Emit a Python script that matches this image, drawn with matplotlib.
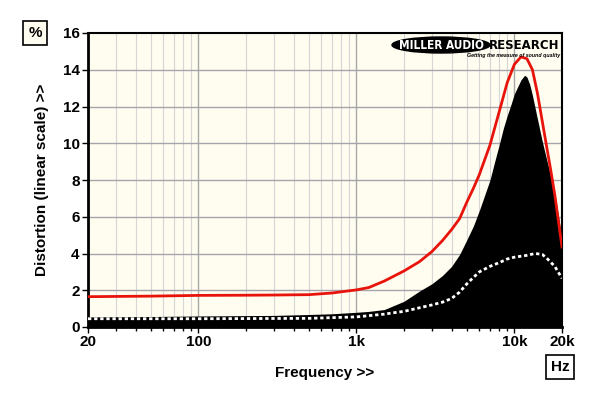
import matplotlib.pyplot as plt
from matplotlib.patches import Ellipse
from matplotlib.ticker import FixedLocator, NullFormatter

# --- data ---
red_freq = [20, 50, 100, 200, 300, 500, 700, 1000, 1200, 1500, 2000, 2500, 3000,
            3500, 4000, 4500, 5000, 5500, 6000, 7000, 8000, 9000, 10000, 11000,
            12000, 13000, 14000, 15000, 16000, 17000, 18000, 20000]
red_thd = [1.65, 1.68, 1.72, 1.73, 1.74, 1.76, 1.85, 2.02, 2.15, 2.5, 3.05, 3.55, 4.1,
           4.7, 5.3, 5.9, 6.8, 7.55, 8.3, 9.9, 11.7, 13.3, 14.3, 14.7,
           14.6, 14.0, 12.7, 11.2, 9.8, 8.5, 7.2, 4.35]

black_freq = [20, 50, 100, 200, 300, 500, 700, 1000, 1200, 1500, 2000, 2500, 3000,
              3500, 4000, 4500, 5000, 5500, 6000, 7000, 7500, 8000, 8500, 9000,
              9500, 10000, 11000, 11600, 12000, 12500, 13000, 14000, 15000, 16000,
              17000, 18000, 20000]
black_thd = [0.55, 0.57, 0.6, 0.62, 0.63, 0.68, 0.72, 0.8, 0.85, 0.95, 1.4, 1.95, 2.35,
             2.8, 3.3, 3.95, 4.75, 5.5, 6.35, 8.0, 9.0, 9.9, 10.8, 11.5,
             12.1, 12.7, 13.45, 13.7, 13.6, 13.2, 12.6, 11.3, 10.1, 9.1,
             8.2, 7.3, 4.8]

dot_freq = [20, 100, 500, 1000, 1500, 1800, 2000, 3000, 3500, 4000, 4500, 5000,
            5500, 6000, 7000, 8000, 9000, 10000, 12000, 13500, 15000, 16000, 18000, 20000]
dot_thd = [0.45, 0.45, 0.47, 0.55, 0.7, 0.8, 0.85, 1.2, 1.35, 1.55, 1.9, 2.35,
           2.7, 3.0, 3.3, 3.5, 3.7, 3.8, 3.9, 4.0, 3.95, 3.75, 3.3, 2.65]

x_major = [20, 100, 1000, 10000, 20000]
x_major_labels = ["20", "100", "1k", "10k", "20k"]
y_ticks = [0, 2, 4, 6, 8, 10, 12, 14, 16]

BG = "#fffdf0"
FONT = "Liberation Sans"

plt.rcParams["font.family"] = [FONT, "DejaVu Sans"]
plt.rcParams["font.weight"] = "bold"

fig = plt.figure(figsize=(6.0, 3.96), dpi=100)
ax = fig.add_axes([88 / 600, 1 - 327 / 396, 474 / 600, 294 / 396])
ax.set_facecolor(BG)

ax.set_xscale("log")
ax.set_xlim(20, 20000)
ax.set_ylim(0, 16)

# grid
minor = [v * d for d in (10, 100, 1000) for v in range(2, 10)]
minor = [m for m in minor if 20 < m < 20000 and m not in (100, 1000, 10000)]
for m in minor:
    ax.axvline(m, color="#d6d6d6", lw=0.8, zorder=0)
for m in (100, 1000, 10000):
    ax.axvline(m, color="#a8a8a8", lw=1.0, zorder=0)
for y in y_ticks[1:-1]:
    ax.axhline(y, color="#a4a4ac", lw=1.0, zorder=0)

# curves
ax.fill_between(black_freq, 0, black_thd, color="black", lw=0, zorder=2)
ax.plot(red_freq, red_thd, color="#e8140c", lw=2.0, zorder=3)
ax.plot(dot_freq, dot_thd, color="white", lw=2.0, linestyle=(0, (1.2, 1.0)), zorder=4)

# ticks
ax.xaxis.set_major_locator(FixedLocator(x_major))
ax.set_xticklabels(x_major_labels)
ax.xaxis.set_minor_locator(FixedLocator(minor))
ax.xaxis.set_minor_formatter(NullFormatter())
ax.set_yticks(y_ticks)
ax.tick_params(axis="both", which="major", length=4, width=1, color="black",
               labelsize=11, pad=2)
ax.tick_params(axis="x", which="minor", length=3, width=1, color="black")
for lab in ax.get_xticklabels() + ax.get_yticklabels():
    lab.set_fontweight("bold")

for s in ax.spines.values():
    s.set_color("black")
    s.set_linewidth(1.5)
ax.spines["left"].set_linewidth(2)
ax.spines["bottom"].set_linewidth(2)

ax.set_xlabel("Frequency >>", fontsize=11, fontweight="bold", labelpad=12)
ax.set_ylabel("Distortion (linear scale) >>", fontsize=11, fontweight="bold", labelpad=10)

# unit boxes
fig.text(35 / 600, 1 - 33 / 396, "%", ha="center", va="center", fontsize=11,
         fontweight="bold",
         bbox=dict(boxstyle="square,pad=0.35", fc=BG, ec="black", lw=1.2))
fig.text(560 / 600, 1 - 367 / 396, "Hz", ha="center", va="center", fontsize=11,
         fontweight="bold",
         bbox=dict(boxstyle="square,pad=0.3", fc="white", ec="black", lw=1.2))

# logo
def fx(px):
    return (px - 88) / 474


def fy(py):
    return (327 - py) / 294


ax.add_patch(Ellipse((fx(441), fy(45)), 98 / 474, 16 / 294, transform=ax.transAxes,
                     color="black", zorder=6, clip_on=False))
ax.text(fx(441), fy(45.5), "MILLER AUDIO", transform=ax.transAxes, ha="center",
        va="center", color="white", fontsize=8.5, fontweight="heavy",
        family="DejaVu Sans", stretch="condensed", zorder=7)
ax.text(fx(489), fy(45.5), "RESEARCH", transform=ax.transAxes, ha="left",
        va="center", color="black", fontsize=8.5, fontweight="heavy",
        family="DejaVu Sans", zorder=7)
ax.text(fx(560), fy(56), "Getting the measure of sound quality", transform=ax.transAxes,
        ha="right", va="center", color="black", fontsize=3.8, fontweight="bold",
        style="italic", zorder=7)

fig.savefig("out.png", dpi=100)
